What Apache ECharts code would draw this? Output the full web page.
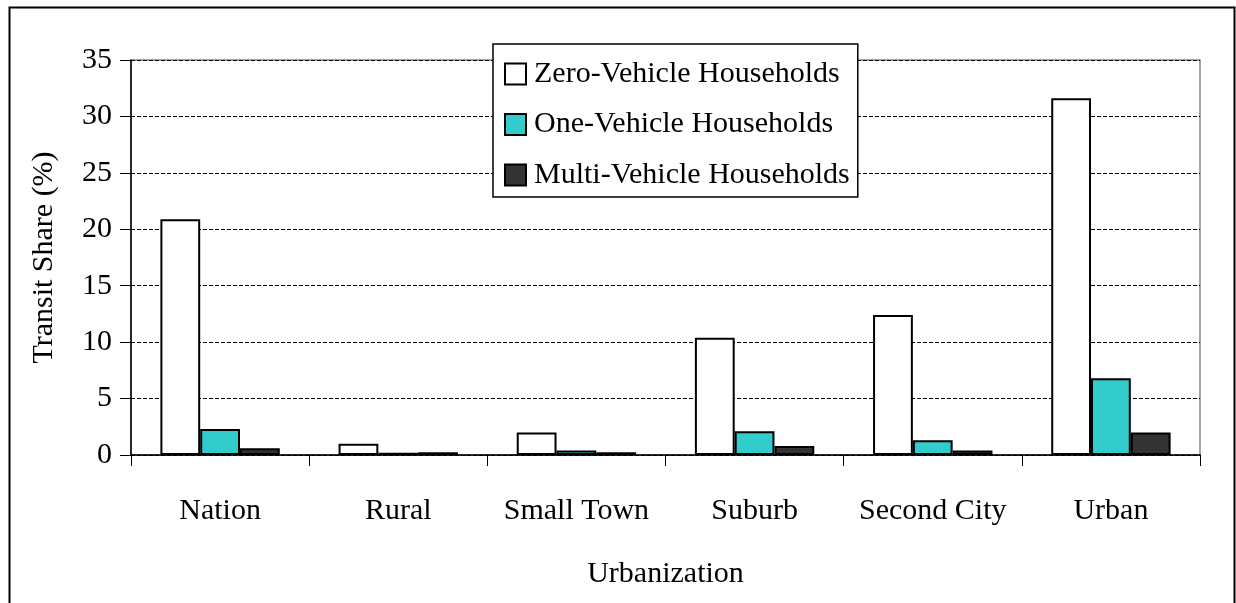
<!DOCTYPE html>
<html>
<head>
<meta charset="utf-8">
<script src="https://cdn.jsdelivr.net/npm/echarts@6/dist/echarts.min.js"></script>
<style>
	html,body{margin:0;padding:0;background:#fff;}
	#main{width:1236px;height:603px;}
</style>
</head>
<body>
<div id="main"></div>
<script>
	var categories = ['Nation', 'Rural', 'Small Town', 'Suburb', 'Second City', 'Urban'];
	var zeroVehicle = [20.9, 1.0, 2.0, 10.4, 12.4, 31.6];
	var oneVehicle = [2.3, 0.2, 0.4, 2.1, 1.3, 6.8];
	var multiVehicle = [0.6, 0.25, 0.25, 0.8, 0.4, 2.0];
	var seriesNames = ['Zero-Vehicle Households', 'One-Vehicle Households', 'Multi-Vehicle Households'];
	var seriesColors = ['#ffffff', '#33cccc', '#333333'];

	var font = '"Liberation Serif", "Times New Roman", serif';
	var myChart = echarts.init(document.getElementById('main'));

	function makeBar(i, data){
		return {
			name: seriesNames[i],
			type: 'bar',
			data: data,
			barGap: '0%',
			barCategoryGap: '33%',
			itemStyle: {color: seriesColors[i], borderColor: '#000', borderWidth: 2}
		};
	}

	var option = {
		backgroundColor: '#fff',
		animation: false,
		textStyle: {fontFamily: font},
		graphic: [{
			type: 'rect',
			shape: {x: 9.5, y: 7.5, width: 1225, height: 640},
			style: {fill: 'none', stroke: '#000', lineWidth: 2},
			silent: true
		}],
		grid: {
			left: 131, top: 60, width: 1069, height: 395,
			show: true, borderColor: '#888', borderWidth: 1.5
		},
		legend: {
			orient: 'vertical',
			left: 493, top: 44,
			backgroundColor: '#fff',
			borderColor: '#000', borderWidth: 1.5,
			padding: [13, 8, 5, 11],
			itemGap: 16.5,
			itemWidth: 21, itemHeight: 21,
			icon: 'rect',
			textStyle: {fontFamily: font, fontSize: 30, color: '#000', lineHeight: 34, padding: [0, 0, 0, 3]},
			data: seriesNames
		},
		xAxis: {
			type: 'category',
			data: categories,
			name: 'Urbanization',
			nameLocation: 'middle',
			nameGap: 104,
			nameTextStyle: {fontFamily: font, fontSize: 30, color: '#000'},
			axisLine: {lineStyle: {color: '#000', width: 1.5}},
			axisTick: {show: true, length: 11, interval: 0, lineStyle: {color: '#000'}},
			axisLabel: {fontFamily: font, fontSize: 30, color: '#000', margin: 41, interval: 0}
		},
		yAxis: {
			type: 'value',
			min: 0, max: 35, interval: 5,
			name: 'Transit Share (%)',
			nameLocation: 'middle',
			nameGap: 72,
			nameTextStyle: {fontFamily: font, fontSize: 30, color: '#000'},
			axisLine: {show: true, lineStyle: {color: '#000', width: 1.5}},
			axisTick: {show: true, length: 11, lineStyle: {color: '#000'}},
			axisLabel: {fontFamily: font, fontSize: 30, color: '#000', margin: 19},
			splitLine: {lineStyle: {color: '#000', type: [4, 2], width: 1}}
		},
		series: [
			makeBar(0, zeroVehicle),
			makeBar(1, oneVehicle),
			makeBar(2, multiVehicle)
		]
	};
	myChart.setOption(option);
</script>
</body>
</html>
